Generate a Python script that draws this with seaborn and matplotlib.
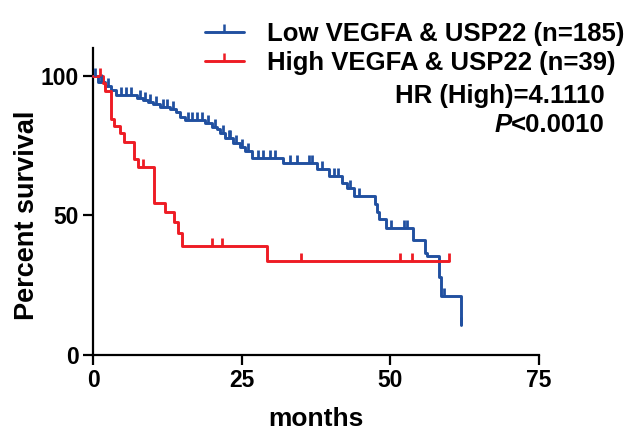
import numpy as np
import pandas as pd
import matplotlib
matplotlib.use("Agg")
import matplotlib.pyplot as plt
import seaborn as sns
from matplotlib.lines import Line2D

# ---- data ----
low_label = "Low VEGFA & USP22 (n=185)"
high_label = "High VEGFA & USP22 (n=39)"

low_t = [0, 0.8, 2.0, 3.0, 3.9, 7.4, 8.4, 9.2, 10.1, 11.3, 12.9, 14.0, 14.6, 15.5,
         18.8, 20.0, 20.9, 21.4, 22.2, 23.5, 24.7, 25.6, 26.7, 32.0, 37.7, 39.7,
         41.9, 42.7, 43.9, 47.4, 47.8, 48.1, 49.3, 53.8, 55.8, 56.2, 58.2, 58.5, 61.9]
low_s = [100, 97.8, 96.4, 95.0, 93.2, 92.1, 91.4, 90.7, 90.0, 88.9, 88.2, 87.1, 85.3, 84.2,
         83.2, 81.7, 81.0, 79.6, 77.8, 76.0, 74.6, 73.1, 70.6, 68.8, 66.7, 64.2,
         61.6, 59.9, 57.0, 54.1, 51.3, 48.7, 45.5, 41.2, 36.5, 35.5, 28.0, 21.1, 10.8]
low_cens = [0.4, 1.4, 2.5, 4.7, 5.5, 6.4, 7.9, 8.8, 9.6, 10.6, 11.8, 12.4, 13.5, 15.9,
            16.6, 17.5, 18.3, 19.4, 20.5, 21.8, 22.8, 23.1, 24.1, 25.1, 26.1, 27.7,
            28.6, 29.8, 30.6, 33.1, 34.3, 36.3, 36.8, 38.5, 40.5, 41.2, 43.2, 44.7,
            50.1, 52.3, 52.8, 59.0, 61.9]

high_t = [0, 1.7, 2.0, 3.1, 3.5, 4.5, 5.2, 6.9, 7.6, 10.3, 12.1, 13.6, 14.3, 15.0, 29.3, 59.9]
high_s = [100, 97.4, 94.6, 84.6, 82.1, 79.6, 76.3, 70.3, 67.4, 54.5, 51.3, 47.7, 43.7, 39.1, 33.7, 33.7]
high_cens = [1.2, 8.4, 20.0, 21.7, 35.0, 51.6, 53.6, 59.9]

x_ticks = [0, 25, 50, 75]
y_ticks = [0, 50, 100]

blue = "#2150A0"
red = "#EE1C24"

def surv_at(times, surv, c):
    idx = np.searchsorted(np.array(times), np.array(c), side="right") - 1
    return np.array(surv)[idx]

sns.set_theme(style="ticks")
plt.rcParams["font.family"] = ["Liberation Sans", "DejaVu Sans"]
plt.rcParams["font.weight"] = "bold"
plt.rcParams["axes.labelweight"] = "bold"
for k in ["text.color", "axes.labelcolor", "xtick.color", "ytick.color", "axes.edgecolor"]:
    plt.rcParams[k] = "black"

fig = plt.figure(figsize=(6.34, 4.36), dpi=100)
ax = fig.add_axes([93 / 634, 81 / 436, 446 / 634, 307 / 436])

for t, s, c, col in [(low_t, low_s, low_cens, blue), (high_t, high_s, high_cens, red)]:
    df = pd.DataFrame({"t": t, "s": s})
    sns.lineplot(data=df, x="t", y="s", drawstyle="steps-post", estimator=None,
                 sort=False, color=col, lw=2.1, ax=ax, zorder=3)
    cdf = pd.DataFrame({"t": c, "s": surv_at(t, s, c)})
    sns.scatterplot(data=cdf, x="t", y="s", marker=2, s=36, color=col,
                    linewidth=2.0, ax=ax, zorder=4)

ax.set_xlim(0, 75)
ax.set_ylim(0, 110)
ax.set_xticks(x_ticks)
ax.set_yticks(y_ticks)
ax.set_xlabel("months", fontsize=19, fontweight="bold", labelpad=11)
ax.set_ylabel("Percent survival", fontsize=19.5, fontweight="bold")
ax.yaxis.set_label_coords(-0.119, 0.456)
ax.tick_params(axis="both", labelsize=16.5, width=1.6, length=7, color="black", pad=3)
for lab in ax.get_xticklabels() + ax.get_yticklabels():
    lab.set_fontweight("bold")
for sp in ["top", "right"]:
    ax.spines[sp].set_visible(False)
for sp in ["left", "bottom"]:
    ax.spines[sp].set_linewidth(1.6)
    ax.spines[sp].set_color("black")
for art in ax.lines + ax.collections:
    art.set_clip_on(False)

handles = [Line2D([], [], color=blue, lw=2.1, marker=2, ms=6, mew=1.8),
           Line2D([], [], color=red, lw=2.1, marker=2, ms=6, mew=1.8)]
fig.legend(handles, [low_label, high_label], loc="upper left",
           bbox_to_anchor=(205 / 634, 1 - 22 / 436), frameon=False,
           prop={"size": 18.5, "weight": "bold"}, handlelength=1.5,
           handletextpad=0.9, labelspacing=0.2, borderpad=0, borderaxespad=0,
           numpoints=1)

fig.text(605 / 634, 1 - 96 / 436, "HR (High)=4.1110", ha="right", va="center",
         fontsize=18.5, fontweight="bold")
ptxt = fig.text(605 / 634, 1 - 125 / 436, "<0.0010", ha="right", va="center",
                fontsize=18.5, fontweight="bold")
ax.annotate("P", xy=(0, 0.5), xycoords=ptxt, ha="right", va="center",
            fontsize=18.5, fontweight="bold", style="italic")

fig.savefig("out.png", dpi=100)
